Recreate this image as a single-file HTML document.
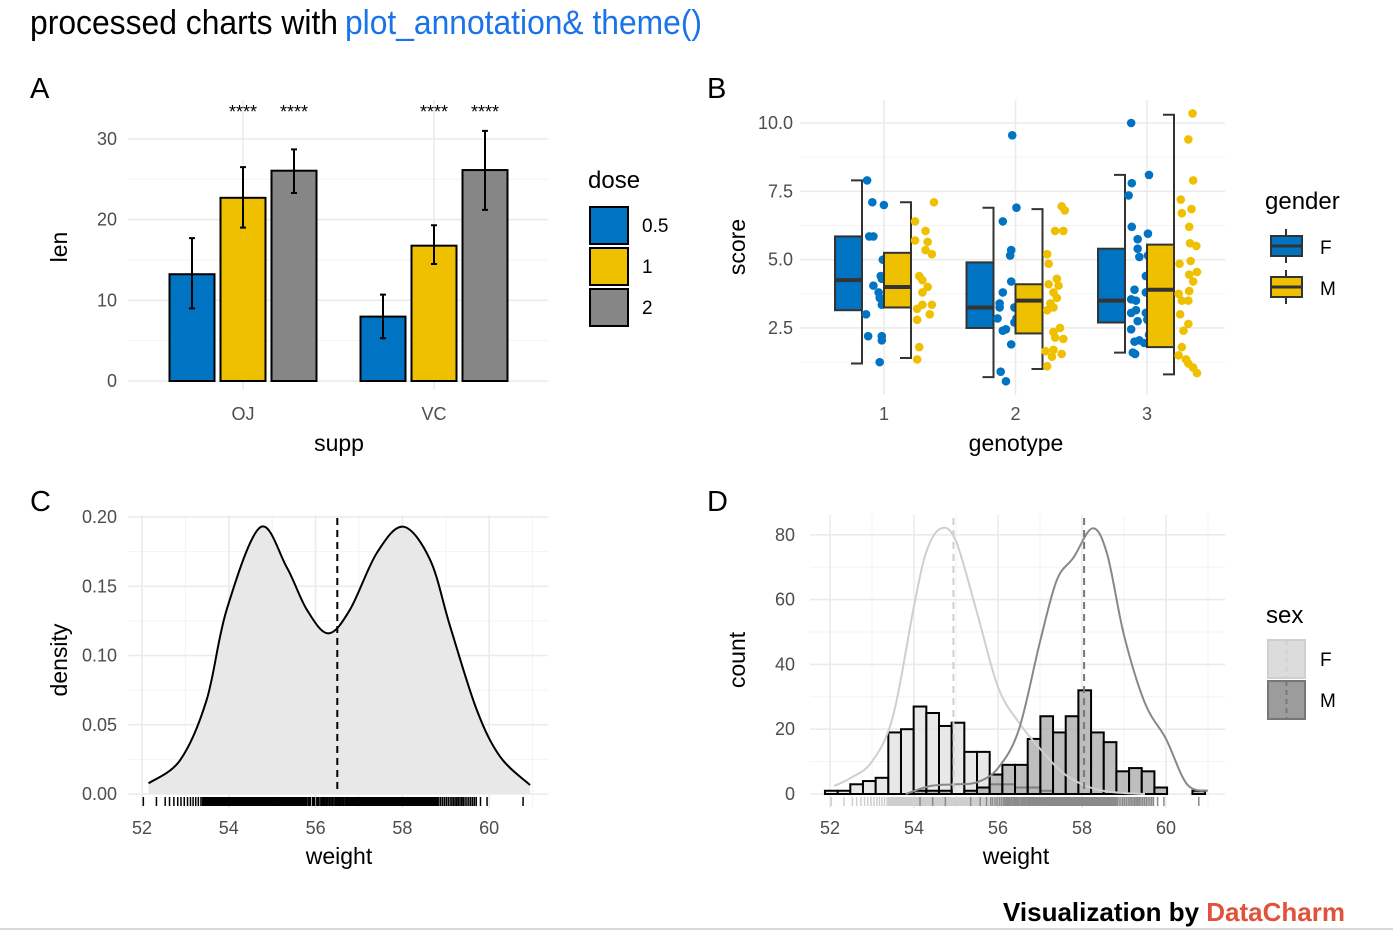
<!DOCTYPE html>
<html><head><meta charset="utf-8"><style>
html,body{margin:0;padding:0;background:#fff;}
svg{display:block;font-family:"Liberation Sans Narrow","Liberation Sans",sans-serif;}
.tick{font-size:18px;fill:#4d4d4d;}
.atitle{font-size:23px;fill:#000;}
.grid{stroke:#ebebeb;stroke-width:1.6;}
.gridm{stroke:#f3f3f3;stroke-width:1;}
</style></head><body>
<svg id="root" width="1393" height="934" viewBox="0 0 1393 934">
<text x="30" y="34" font-size="34" textLength="308" lengthAdjust="spacingAndGlyphs">processed charts with</text>
<text x="345" y="34" font-size="34" fill="#1a73e8" textLength="357" lengthAdjust="spacingAndGlyphs">plot_annotation&amp; theme()</text>
<text x="30" y="98" font-size="29">A</text>
<text x="707" y="98" font-size="29">B</text>
<text x="30" y="511" font-size="29">C</text>
<text x="707" y="511" font-size="29">D</text>
<g id="pa"></g>
<g id="pb"></g>
<g id="pc"></g>
<g id="pd"></g>
<text x="1345" y="921" font-size="26" font-weight="bold" text-anchor="end">Visualization by <tspan fill="#e0533a">DataCharm</tspan></text>
<line x1="0" y1="929" x2="1393" y2="929" stroke="#d9d9d9" stroke-width="2"/>
</svg>
<script>
// ---------- Panel A data ----------
const aSupp = ['OJ','VC'];
const aDose = ['0.5','1','2'];
const aMeans = [[13.23,22.70,26.06],[7.98,16.77,26.14]];
const aLo = [[9.0,19.0,23.3],[5.3,14.5,21.2]];
const aHi = [[17.7,26.5,28.7],[10.7,19.3,31.0]];
const aTicks = [0,10,20,30];
// ---------- Panel B data ----------
const bGeno = [1,2,3];
const bTicks = [2.5,5.0,7.5,10.0];
const bBoxF = [[1.2,3.15,4.25,5.85,7.9],[0.7,2.5,3.25,4.9,6.9],[1.6,2.7,3.5,5.4,8.1]];
const bBoxM = [[1.4,3.25,4.0,5.25,7.1],[1.0,2.3,3.5,4.1,6.85],[0.8,1.8,3.9,5.55,10.3]];
const bPtsF1 = [7.9,7.1,7.0,5.85,5.85,5.0,4.4,4.3,4.05,3.8,3.6,3.35,3.0,2.2,2.2,2.05,1.25];
const bJitF1 = [0.1,0.35,0.9,0.2,0.4,0.85,0.75,0.8,0.4,0.65,0.7,0.8,0.05,0.15,0.8,0.8,0.7];
const bPtsM1 = [7.1,6.4,6.05,5.7,5.65,5.35,5.2,4.4,4.25,4.0,3.8,3.35,3.35,3.2,2.8,3.0,1.8,1.35];
const bJitM1 = [0.95,0.05,0.55,0.05,0.65,0.55,0.85,0.25,0.4,0.65,0.4,0.85,0.4,0.15,0.15,0.75,0.25,0.15];
const bPtsF2 = [9.55,6.9,6.4,5.35,5.15,4.2,3.8,3.4,3.25,3.25,2.85,2.85,2.7,2.45,2.4,1.9,0.9,0.55];
const bJitF2 = [0.75,0.95,0.3,0.7,0.65,0.7,0.3,0.15,0.85,0.15,0.05,0.95,0.85,0.45,0.3,0.7,0.2,0.45];
const bPtsM2 = [6.95,6.8,6.05,6.05,5.2,4.85,4.3,4.1,4.05,3.8,3.6,3.4,3.25,3.15,2.5,2.35,2.15,2.1,1.65,1.7,1.55,1.45,1.1];
const bJitM2 = [0.77,0.92,0.46,0.85,0.08,0.15,0.54,0.15,0.62,0.38,0.54,0.23,0.38,0.08,0.69,0.38,0.46,0.85,0.0,0.38,0.77,0.31,0.08];
const bPtsF3 = [10.0,8.1,7.8,7.35,6.2,5.95,5.75,5.4,5.1,5.15,4.4,3.9,3.8,3.55,3.5,3.05,3.15,3.05,2.75,2.8,2.45,2.05,1.95,2.0,1.6,1.55,2.25];
const bJitF3 = [0.15,1.0,0.18,0.03,0.18,0.95,0.46,0.46,0.54,0.95,0.85,0.31,0.85,0.15,0.38,0.85,0.38,0.15,0.46,0.92,0.15,0.54,0.77,0.31,0.23,0.34,1.0];
const bPtsM3 = [10.35,9.4,7.9,7.2,6.85,6.7,6.2,5.6,5.5,4.85,4.95,4.55,4.45,4.2,3.85,3.75,3.5,3.5,3.0,2.65,2.4,1.8,1.5,1.35,1.2,1.05,0.85];
const bJitM3 = [0.74,0.54,0.77,0.18,0.69,0.23,0.58,0.62,0.92,0.12,0.65,0.95,0.58,0.77,0.58,0.08,0.23,0.54,0.15,0.54,0.31,0.23,0.08,0.43,0.54,0.77,0.95];
// ---------- Panel C data ----------
const cWeight = [52.15,52.88,53.49,53.95,54.72,55.33,55.8,56.29,56.79,57.41,58.02,58.64,59.1,59.71,60.25,60.94];
const cDensity = [0.0077,0.0245,0.068,0.133,0.1925,0.164,0.133,0.116,0.133,0.174,0.193,0.169,0.121,0.061,0.027,0.0065];
const cMean = 56.5;
const cXTicks = [52,54,56,58,60];
const cYTicks = [0,0.05,0.10,0.15,0.20];
// ---------- Panel D data ----------
const dBinStart = 51.88, dBinWidth = 0.3017;
const dCountF = [1,1,3,4,5,19,20,27,25,21,22,13,13,3,3,2,2,1,0,0,0,0,0,0,0,0,0,0,0,0];
const dCountM = [0,0,0,0,0,0,0,1,1,1,0,1,2,6,9,9,17,24,19,24,32,19,16,7,8,7,2,0,0,1];
const dDensXF = [52.1,52.5,53,53.5,54,54.3,54.65,55,55.5,56,56.5,57,57.5,58,58.5,59,59.5];
const dDensF = [2.5,5,10,24,58,75,82,78,56,33,22,14,7,3,1,0.3,0];
const dDensXM = [53.8,54.4,55,55.5,56,56.5,57,57.4,57.8,58.25,58.6,59,59.5,60,60.5,61];
const dDensM = [0,2.5,3,3.6,8,20,47,66,73,82,74,49,28,17,3,1];
const dMeans = [54.94,58.05];
const dXTicks = [52,54,56,58,60];
const dYTicks = [0,20,40,60,80];

const NS='http://www.w3.org/2000/svg';
function mk(parent,tag,attrs,text){const e=document.createElementNS(NS,tag);for(const k in attrs)e.setAttribute(k,attrs[k]);if(text!==undefined)e.textContent=text;parent.appendChild(e);return e;}
function spline(pts){let d='M'+pts[0][0]+','+pts[0][1];for(let i=0;i<pts.length-1;i++){const p0=pts[Math.max(0,i-1)],p1=pts[i],p2=pts[i+1],p3=pts[Math.min(pts.length-1,i+2)];const c1=[p1[0]+(p2[0]-p0[0])/6,p1[1]+(p2[1]-p0[1])/6],c2=[p2[0]-(p3[0]-p1[0])/6,p2[1]-(p3[1]-p1[1])/6];d+=' C'+c1[0]+','+c1[1]+' '+c2[0]+','+c2[1]+' '+p2[0]+','+p2[1];}return d;}

// ================= Panel A =================
(function(){
const g=document.getElementById('pa');
const ya=v=>381-v*8.07;
const cx=[243,434];
const colors=['#0073C2','#EFC000','#868686'];
const off=[-51,0,51];
for(let v=5;v<=35;v+=10){if(ya(v)<100)continue;const l=mk(g,'line',{x1:128,x2:548,y1:ya(v),y2:ya(v),class:'gridm'});}
aTicks.forEach(t=>{const l=mk(g,'line',{x1:128,x2:548,y1:ya(t),y2:ya(t),class:'grid'});
const tx=mk(g,'text',{x:117,y:ya(t)+6,'text-anchor':'end',class:'tick'},String(t));});
cx.forEach((x,i)=>{const l=mk(g,'line',{x1:x,x2:x,y1:100,y2:390,class:'grid'});
const tx=mk(g,'text',{x:x,y:420,'text-anchor':'middle',class:'tick'},aSupp[i]);
const s1=mk(g,'text',{x:x,y:118,'text-anchor':'middle','font-size':18},'****');
const s2=mk(g,'text',{x:x+51,y:118,'text-anchor':'middle','font-size':18},'****');});
aSupp.forEach((s,i)=>aDose.forEach((d,j)=>{const x=cx[i]+off[j];
const r=mk(g,'rect',{x:x-22.5,y:ya(aMeans[i][j]),width:45,height:ya(0)-ya(aMeans[i][j]),fill:colors[j],stroke:'#000','stroke-width':2});
const e=mk(g,'path',{d:`M${x},${ya(aLo[i][j])}V${ya(aHi[i][j])}M${x-3},${ya(aLo[i][j])}H${x+3}M${x-3},${ya(aHi[i][j])}H${x+3}`,stroke:'#000','stroke-width':2,fill:'none'});}));
const yt=mk(g,'text',{x:0,y:0,class:'atitle',transform:'translate(67,247) rotate(-90)','text-anchor':'middle'},'len');
const xt=mk(g,'text',{x:339,y:451,class:'atitle','text-anchor':'middle'},'supp');
const lt=mk(g,'text',{x:588,y:188,'font-size':24},'dose');
aDose.forEach((d,j)=>{const y=207+j*41;const r=mk(g,'rect',{x:590,y:y,width:38,height:37,fill:colors[j],stroke:'#000','stroke-width':2});
const t=mk(g,'text',{x:642,y:y+25,'font-size':19},d);});
})();

// ================= Panel B =================
(function(){
const g=document.getElementById('pb');
const yb=v=>123+(10-v)*27.33;
const xb=k=>884+(k-1)*131.5;
const cF='#0073C2',cM='#EFC000';
[1.25,3.75,6.25,8.75].forEach(v=>{const l=mk(g,'line',{x1:800,x2:1225,y1:yb(v),y2:yb(v),class:'gridm'});});
bTicks.forEach(t=>{const l=mk(g,'line',{x1:800,x2:1225,y1:yb(t),y2:yb(t),class:'grid'});
const tx=mk(g,'text',{x:793,y:yb(t)+6,'text-anchor':'end',class:'tick'},t.toFixed(1));});
bGeno.forEach(k=>{const l=mk(g,'line',{x1:xb(k),x2:xb(k),y1:100,y2:395,class:'grid'});
const tx=mk(g,'text',{x:xb(k),y:420,'text-anchor':'middle',class:'tick'},String(k));});
function box(k,st,off,col,name){const c=xb(k)+off,l=c-13.5,r=c+13.5;
const w=mk(g,'path',{d:`M${r-11},${yb(st[0])}H${r}V${yb(st[4])}H${r-11}`,stroke:'#333','stroke-width':2,fill:'none'});
const b=mk(g,'rect',{x:l,y:yb(st[3]),width:27,height:yb(st[1])-yb(st[3]),fill:col,stroke:'#333','stroke-width':2});
const m=mk(g,'line',{x1:l,x2:r,y1:yb(st[2]),y2:yb(st[2]),stroke:'#333','stroke-width':4});
return r;}
function pts(k,r,vals,jit,col,name){vals.forEach((v,i)=>{const p=mk(g,'circle',{cx:r+3+jit[i]*21,cy:yb(v),r:4.3,fill:col});});}
const PF=[[bPtsF1,bJitF1],[bPtsF2,bJitF2],[bPtsF3,bJitF3]],PM=[[bPtsM1,bJitM1],[bPtsM2,bJitM2],[bPtsM3,bJitM3]];
bGeno.forEach((k,i)=>{const rF=box(k,bBoxF[i],-35.5,cF,'box-f-'+k);pts(k,rF,PF[i][0],PF[i][1],cF,'genotype-'+k+'-f');
const rM=box(k,bBoxM[i],13.5,cM,'box-m-'+k);pts(k,rM,PM[i][0],PM[i][1],cM,'genotype-'+k+'-m');});
const yt=mk(g,'text',{x:0,y:0,class:'atitle',transform:'translate(745,247) rotate(-90)','text-anchor':'middle'},'score');
const xt=mk(g,'text',{x:1016,y:451,class:'atitle','text-anchor':'middle'},'genotype');
const lt=mk(g,'text',{x:1265,y:209,'font-size':24},'gender');
[['F',cF],['M',cM]].forEach((e,j)=>{const y=235+j*41;
const wl=mk(g,'line',{x1:1286,x2:1286,y1:y-6,y2:y+28,stroke:'#333','stroke-width':2});
const r=mk(g,'rect',{x:1271,y:y+1,width:31,height:20,fill:e[1],stroke:'#333','stroke-width':2});
const m=mk(g,'line',{x1:1271,x2:1302,y1:y+11,y2:y+11,stroke:'#333','stroke-width':3});
const t=mk(g,'text',{x:1320,y:y+19,'font-size':19},e[0]);});
})();

// rug values derived from histogram counts
function rugVals(counts){const out=[];counts.forEach((n,i)=>{for(let q=0;q<n;q++)out.push(dBinStart+dBinWidth*(i+(q+0.5)/n));});return out;}

// ================= Panel C =================
(function(){
const g=document.getElementById('pc');
const xc=w=>142+(w-52)*43.4, yc=d=>794-d*1385;
for(let w=53;w<=61;w+=2){const l=mk(g,'line',{x1:xc(w),x2:xc(w),y1:515,y2:808,class:'gridm'});}
[0.025,0.075,0.125,0.175].forEach(v=>{const l=mk(g,'line',{x1:128,x2:548,y1:yc(v),y2:yc(v),class:'gridm'});});
cXTicks.forEach(t=>{const l=mk(g,'line',{x1:xc(t),x2:xc(t),y1:515,y2:808,class:'grid'});
const tx=mk(g,'text',{x:xc(t),y:834,'text-anchor':'middle',class:'tick'},String(t));});
cYTicks.forEach(t=>{const l=mk(g,'line',{x1:128,x2:548,y1:yc(t),y2:yc(t),class:'grid'});
const tx=mk(g,'text',{x:117,y:yc(t)+6,'text-anchor':'end',class:'tick'},t.toFixed(2));});
const P=cWeight.map((w,i)=>[xc(w),yc(cDensity[i])]);
const d=spline(P);
const a=mk(g,'path',{d:d+` L${P[P.length-1][0]},${yc(0)} L${P[0][0]},${yc(0)} Z`,fill:'#e8e8e8',stroke:'none'});
const ln=mk(g,'path',{d:d,fill:'none',stroke:'#000','stroke-width':2});
const ml=mk(g,'line',{x1:xc(cMean),x2:xc(cMean),y1:518,y2:794,stroke:'#000','stroke-width':2,'stroke-dasharray':'7,5'});
rugVals(dCountF).concat(rugVals(dCountM)).forEach(w=>{const r=mk(g,'line',{x1:xc(w),x2:xc(w),y1:797,y2:806,stroke:'#000','stroke-width':1.5});});
const yt=mk(g,'text',{x:0,y:0,class:'atitle',transform:'translate(67,660) rotate(-90)','text-anchor':'middle'},'density');
const xt=mk(g,'text',{x:339,y:864,class:'atitle','text-anchor':'middle'},'weight');
})();

// ================= Panel D =================
(function(){
const g=document.getElementById('pd');
const xd=w=>830+(w-52)*42, yd=c=>794-c*3.24;
for(let w=53;w<=61;w+=2){const l=mk(g,'line',{x1:xd(w),x2:xd(w),y1:515,y2:808,class:'gridm'});}
[10,30,50,70].forEach(v=>{const l=mk(g,'line',{x1:810,x2:1225,y1:yd(v),y2:yd(v),class:'gridm'});});
dXTicks.forEach(t=>{const l=mk(g,'line',{x1:xd(t),x2:xd(t),y1:515,y2:808,class:'grid'});
const tx=mk(g,'text',{x:xd(t),y:834,'text-anchor':'middle',class:'tick'},String(t));});
dYTicks.forEach(t=>{const l=mk(g,'line',{x1:810,x2:1225,y1:yd(t),y2:yd(t),class:'grid'});
const tx=mk(g,'text',{x:795,y:yd(t)+6,'text-anchor':'end',class:'tick'},String(t));});
function bars(counts,fill,name){counts.forEach((c,i)=>{if(!c)return;const x0=xd(dBinStart+i*dBinWidth),x1=xd(dBinStart+(i+1)*dBinWidth);
const r=mk(g,'rect',{x:x0,y:yd(c),width:x1-x0,height:yd(0)-yd(c),fill:fill,'fill-opacity':0.75,stroke:'#000','stroke-width':2});});}
bars(dCountF,'#e0e0e0','hist-bar-f');
bars(dCountM,'#a8a8a8','hist-bar-m');
const lf=mk(g,'path',{d:spline(dDensXF.map((w,i)=>[xd(w),yd(dDensF[i])])),fill:'none',stroke:'#cfcfcf','stroke-width':2});
const lm=mk(g,'path',{d:spline(dDensXM.map((w,i)=>[xd(w),yd(dDensM[i])])),fill:'none',stroke:'#888','stroke-width':2});
['#cfcfcf','#777'].forEach((c,i)=>{const m=mk(g,'line',{x1:xd(dMeans[i]),x2:xd(dMeans[i]),y1:518,y2:794,stroke:c,'stroke-width':2,'stroke-dasharray':'7,5'});});
rugVals(dCountF).forEach(w=>{const r=mk(g,'line',{x1:xd(w),x2:xd(w),y1:797,y2:806,stroke:'#cfcfcf','stroke-width':1.5});});
rugVals(dCountM).forEach(w=>{const r=mk(g,'line',{x1:xd(w),x2:xd(w),y1:797,y2:806,stroke:'#8a8a8a','stroke-width':1.5});});
const yt=mk(g,'text',{x:0,y:0,class:'atitle',transform:'translate(745,660) rotate(-90)','text-anchor':'middle'},'count');
const xt=mk(g,'text',{x:1016,y:864,class:'atitle','text-anchor':'middle'},'weight');
const lt=mk(g,'text',{x:1266,y:623,'font-size':24},'sex');
[['F','#dcdcdc','#cfcfcf'],['M','#9c9c9c','#777']].forEach((e,j)=>{const y=640+j*41;
const r=mk(g,'rect',{x:1268,y:y,width:37,height:38,fill:e[1],stroke:e[2],'stroke-width':2});
const m=mk(g,'line',{x1:1286.5,x2:1286.5,y1:y,y2:y+38,stroke:e[2],'stroke-width':2,'stroke-dasharray':'5,4'});
const t=mk(g,'text',{x:1320,y:y+26,'font-size':19},e[0]);});
})();
</script>
</body></html>
